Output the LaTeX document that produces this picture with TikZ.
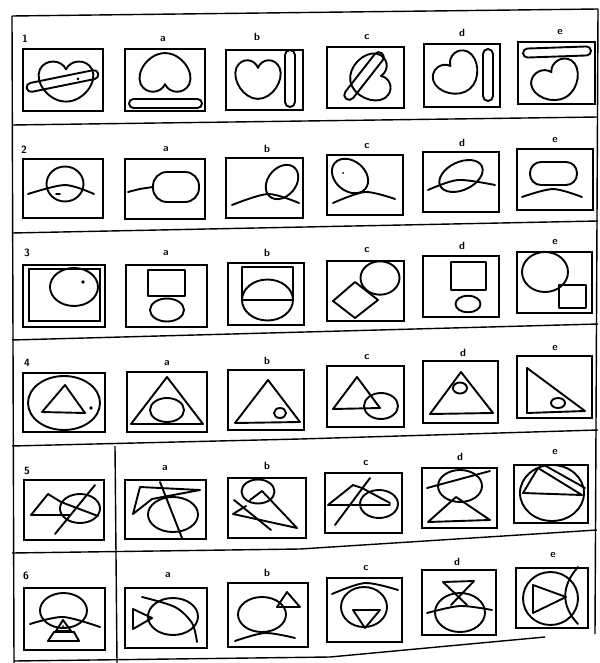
\documentclass[tikz,border=0pt]{standalone}
\tikzset{
  fig/.style={line width=1.9pt, line join=round, line cap=round},
  boxline/.style={line width=1.9pt},
  frameline/.style={line width=1.4pt},
  lab/.style={font=\sffamily\bfseries\fontsize{10.5}{10.5}\selectfont, inner sep=0pt},
}
% heart: cx cy rotation xscale yscale
\newcommand\heartshape[5]{%
  \draw[fig,shift={(#1,#2)},rotate=#3,xscale=#4,yscale=#5]
    (0,-0.45) .. controls (-0.15,-0.8) and (-0.7,-0.85) .. (-0.9,-0.45)
    .. controls (-1.1,0) and (-0.6,0.7) .. (0,0.7)
    .. controls (0.6,0.7) and (1.1,0) .. (0.9,-0.45)
    .. controls (0.7,-0.85) and (0.15,-0.8) .. (0,-0.45) -- cycle;}
% capsule: cx cy length width angle
\newcommand\capsule[5]{%
  \draw[fig,shift={(#1,#2)},rotate=#5]
    ({-(#3-#4)/2},{-#4/2}) -- ({(#3-#4)/2},{-#4/2})
    arc[start angle=-90,end angle=90,radius=#4/2]
    -- ({-(#3-#4)/2},{#4/2})
    arc[start angle=90,end angle=270,radius=#4/2] -- cycle;}
\newcommand\bx[4]{\draw[boxline] (#1,#2) rectangle (#3,#4);}
\begin{document}
\begin{tikzpicture}[x=1pt,y=-1pt]
\useasboundingbox (0,0) rectangle (599,663);
\fill[white] (0,0) rectangle (599,663);

% ---------- frame and separators ----------
\draw[frameline] (12,16) -- (598,9);
\draw[frameline] (12,16) -- (14,663);
\draw[frameline] (598,9) -- (595,634);
\draw[frameline] (12,125) -- (598,117);
\draw[frameline] (12,233) -- (598,221);
\draw[frameline] (12,340) -- (598,324);
\draw[frameline] (12,446) -- (300,439) -- (598,430);
\draw[frameline] (12,553) -- (300,549) -- (597,530);
\draw[frameline] (14,661) -- (330,657) -- (545,637);
\draw[frameline] (115,446) -- (117,663);

% ---------- labels ----------
\node[lab] (l1)  at (25,39)  {1};
\node[lab] (l1a) at (163,39) {a};
\node[lab] (l1b) at (257,37) {b};
\node[lab] (l1c) at (367,37) {c};
\node[lab] (l1d) at (462,33) {d};
\node[lab] (l1e) at (560,32) {e};
\node[lab] (l2)  at (24,150) {2};
\node[lab] (l2a) at (166,149) {a};
\node[lab] (l2b) at (267,149) {b};
\node[lab] (l2c) at (367,146) {c};
\node[lab] (l2d) at (462,143) {d};
\node[lab] (l2e) at (555,140) {e};
\node[lab] (l3)  at (27,253) {3};
\node[lab] (l3a) at (166,253) {a};
\node[lab] (l3b) at (267,253) {b};
\node[lab] (l3c) at (367,250) {c};
\node[lab] (l3d) at (462,246) {d};
\node[lab] (l3e) at (555,242) {e};
\node[lab] (l4)  at (27,363) {4};
\node[lab] (l4a) at (167,363) {a};
\node[lab] (l4b) at (267,361) {b};
\node[lab] (l4c) at (367,357) {c};
\node[lab] (l4d) at (463,353) {d};
\node[lab] (l4e) at (555,348) {e};
\node[lab] (l5)  at (27,471) {5};
\node[lab] (l5a) at (165,468) {a};
\node[lab] (l5b) at (267,466) {b};
\node[lab] (l5c) at (366,463) {c};
\node[lab] (l5d) at (460,457) {d};
\node[lab] (l5e) at (555,452) {e};
\node[lab] (l6)  at (26,576) {6};
\node[lab] (l6a) at (168,575) {a};
\node[lab] (l6b) at (267,573) {b};
\node[lab] (l6c) at (366,568) {c};
\node[lab] (l6d) at (457,562) {d};
\node[lab] (l6e) at (553,555) {e};

% ---------- row 1 ----------
\bx{23}{49}{103}{111}
\heartshape{66}{82}{0}{29}{28}
\capsule{62.5}{81}{73}{9}{11.5}
\fill (78,79) circle (1.5);
\bx{125}{49}{205}{111}
\heartshape{165}{72}{180}{27}{27}
\capsule{165.5}{103.5}{73}{9}{0}
\bx{226}{50}{303}{110}
\heartshape{258}{80}{0}{24}{27}
\capsule{290}{78.5}{57}{10}{90}
\bx{327}{47}{404}{108}
\heartshape{369}{78}{-80}{25}{27}
\capsule{364}{76}{58}{10}{52}
\bx{424}{44}{500}{107}
\heartshape{458}{75}{40}{25}{26}
\capsule{488}{75}{52}{10}{90}
\bx{518}{42}{595}{104}
\heartshape{557}{82}{30}{26}{25}
\capsule{557}{52}{68}{9}{2}

% ---------- row 2 ----------
\bx{23}{159}{103}{218}
\draw[fig] (65,184) ellipse [x radius=18.5, y radius=17.5];
\draw[fig] plot[smooth] coordinates {(28,194) (65,185) (94,194)};
\draw[fig] (56,194) -- (60,194);
\bx{125}{159}{205}{219}
\draw[fig,rounded corners=14pt] (153,172) rectangle (199,202);
\draw[fig] plot[smooth] coordinates {(128,192) (140,189) (153,187)};
\bx{226}{158}{303}{218}
\draw[fig,rotate around={50:(282,182)}] (282,182) ellipse [x radius=19, y radius=14];
\draw[fig] plot[smooth] coordinates {(232,205) (268,194) (299,203)};
\bx{327}{155}{403}{215}
\draw[fig,rotate around={-40:(350,176)}] (350,176) ellipse [x radius=20, y radius=15];
\fill (343,173) circle (1);
\draw[fig] plot[smooth] coordinates {(333,203) (365,192) (395,199)};
\bx{423}{152}{499}{212}
\draw[fig,rotate around={25:(461,176)}] (461,176) ellipse [x radius=23, y radius=14];
\draw[fig] plot[smooth] coordinates {(428,190) (458,180) (495,185)};
\bx{517}{149}{593}{210}
\draw[fig,rounded corners=11pt] (530,162) rectangle (577,185);
\draw[fig] plot[smooth] coordinates {(522,197) (553,189) (582,197)};

% ---------- row 3 ----------
\bx{23}{265}{105}{327}
\draw[boxline] (29,269) rectangle (100,321);
\draw[fig] (74,287) ellipse [x radius=24, y radius=19];
\fill (83,282) circle (1.8);
\bx{126}{265}{207}{327}
\draw[fig] (148,270) rectangle (185,296);
\draw[fig] (167,310) ellipse [x radius=17, y radius=11.5];
\bx{228}{263}{304}{325}
\draw[fig] (242,267) rectangle (293,300);
\draw[fig] (267.5,300) ellipse [x radius=25.5, y radius=20.5];
\bx{327}{261}{404}{321}
\draw[fig] (380,278) ellipse [x radius=19.5, y radius=16.7];
\draw[fig] (355,282) -- (378,300) -- (355,318) -- (333,301) -- cycle;
\bx{423}{256}{499}{317}
\draw[fig] (451,262) rectangle (486,290);
\draw[fig] (468,304) ellipse [x radius=12.5, y radius=8.3];
\bx{517}{252}{592}{313}
\draw[fig] (545,272) ellipse [x radius=23, y radius=20];
\draw[fig] (559,285) rectangle (586,308);

% ---------- row 4 ----------
\bx{23}{373}{105}{432}
\draw[fig] (64,403) ellipse [x radius=36, y radius=27];
\draw[fig] (65,385) -- (42,412) -- (85,413) -- cycle;
\fill (91,408) circle (1.8);
\bx{127}{372}{207}{432}
\draw[fig] (167,377) -- (131,424) -- (203,424) -- cycle;
\draw[fig] (167,410) ellipse [x radius=17, y radius=12];
\bx{228}{370}{304}{430}
\draw[fig] (268,380) -- (235,423) -- (300,422) -- cycle;
\draw[fig] (280,413) ellipse [x radius=6, y radius=5];
\bx{327}{366}{404}{427}
\draw[fig] (357,377) -- (333,409) -- (380,408) -- cycle;
\draw[fig] (381,406) ellipse [x radius=17, y radius=13];
\bx{423}{361}{498}{423}
\draw[fig] (461,372) -- (430,414) -- (493,413) -- cycle;
\draw[fig] (460,388) ellipse [x radius=7, y radius=5.5];
\bx{517}{356}{592}{418}
\draw[fig] (527,368) -- (527,413) -- (585,411) -- cycle;
\draw[fig] (558,403) ellipse [x radius=7, y radius=5];

% ---------- row 5 ----------
\bx{24}{480}{104}{540}
\draw[fig] (80,508.5) ellipse [x radius=20, y radius=14.5];
\draw[fig] (70,515) -- (31,515) -- (48,494) -- (61,502) -- (98,516);
\draw[fig] (95,485) -- (55,534);
\bx{125}{480}{206}{539}
\draw[fig] (173,514.5) ellipse [x radius=25, y radius=17.5];
\draw[fig] (133,514) -- (140,487) -- (200,490) -- (152,499) -- cycle;
\draw[fig] (160,482) -- (182,538);
\bx{228}{478}{306}{538}
\draw[fig] (258,491.5) ellipse [x radius=16.5, y radius=12];
\draw[fig] (250,500) -- (262,491) -- (297,528) -- (233,514) -- (246,506);
\draw[fig] (234,500) -- (271,530);
\bx{325}{473}{402}{533}
\draw[fig] (379,504) ellipse [x radius=19, y radius=14];
\draw[fig] (390,505) -- (328,505) -- (353,485) -- (362,488) -- (390,503);
\draw[fig] (370,478) -- (335,525);
\bx{422}{468}{497}{528}
\draw[fig] (460,486) ellipse [x radius=22, y radius=16];
\draw[fig] (427,488) -- (490,471);
\draw[fig] (428,522) -- (456,497) -- (490,520) -- cycle;
\bx{514}{465}{588}{523}
\draw[fig] (552,493) ellipse [x radius=32, y radius=28];
\draw[fig] (538,468) -- (523,493) -- (582,495) -- cycle;
\draw[fig] (544,465) -- (585,488);

% ---------- row 6 ----------
\bx{24}{588}{105}{650}
\draw[fig] (63.5,610.5) ellipse [x radius=23.5, y radius=17.5];
\draw[fig] plot[smooth] coordinates {(30,624) (63,617) (100,627)};
\draw[fig] (63,620) -- (56,631) -- (71,631) -- cycle;
\draw[fig] (54,632) -- (48,641) -- (79,641) -- (74,632) -- cycle;
\fill (63,626) circle (1);
\bx{125}{588}{207}{648}
\draw[fig] (173,616.5) ellipse [x radius=25, y radius=18.5];
\draw[fig] plot[smooth] coordinates {(142,597) (175,607) (192,623) (197,642)};
\draw[fig] (133,609) -- (133,629) -- (152,618) -- cycle;
\bx{228}{583}{308}{647}
\draw[fig] (262,614.5) ellipse [x radius=24, y radius=17.5];
\draw[fig] (277,607) -- (287,592) -- (300,607) -- cycle;
\draw[fig] plot[smooth] coordinates {(235,641) (265,633) (295,638)};
\bx{327}{578}{402}{642}
\draw[fig] plot[smooth] coordinates {(332,594) (365,583) (398,590)};
\draw[fig] (364,607) ellipse [x radius=23, y radius=20];
\draw[fig] (353,610) -- (380,610) -- (365,628) -- cycle;
\bx{422}{570}{496}{635}
\draw[fig] (443,582) -- (474,581);
\draw[fig] (443,582) -- (467,605);
\draw[fig] (474,581) -- (451,605);
\draw[fig] (460,612.5) ellipse [x radius=25, y radius=19.5];
\draw[fig] plot[smooth] coordinates {(427,613) (460,606) (492,610)};
\bx{516}{568}{588}{628}
\draw[fig] (550.5,598.5) ellipse [x radius=27.5, y radius=26.5];
\draw[fig] (533,585) -- (533,613) -- (566,597) -- cycle;
\draw[fig] (578,567) .. controls (562,585) and (560,605) .. (578,624);
\end{tikzpicture}
\end{document}
